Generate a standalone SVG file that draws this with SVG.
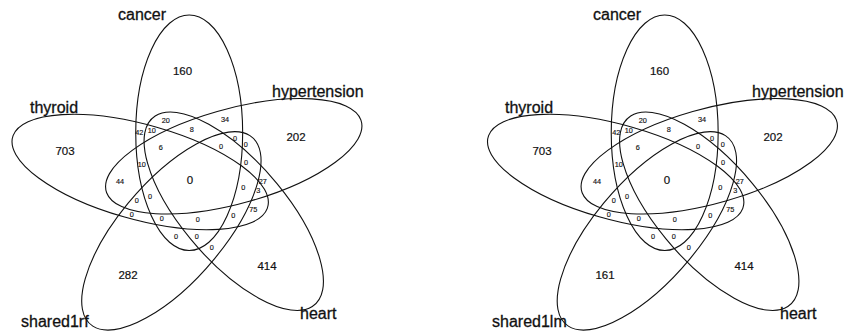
<svg xmlns="http://www.w3.org/2000/svg" xmlns:xlink="http://www.w3.org/1999/xlink" width="847" height="332" viewBox="0 0 847 332">
<style>
.el{fill:none;stroke:#111;stroke-width:1.1}
text{font-family:"Liberation Sans",Arial,sans-serif;fill:#111}
.lab{font-size:16px;stroke:#111;stroke-width:0.3}
.big{font-size:11.5px;text-anchor:middle;dominant-baseline:central;stroke:#111;stroke-width:0.2}
.sm{font-size:7.3px;text-anchor:middle;dominant-baseline:central;stroke:#111;stroke-width:0.15}
</style>
<defs>
<ellipse id="ell" cx="0" cy="0" rx="150" ry="60" vector-effect="non-scaling-stroke"/>
</defs>
<rect width="847" height="332" fill="#fff"/>
<g id="venn-left">
  <g transform="matrix(0.891,0,0,-0.785,11,329)">
    <g id="L-cancer"><use xlink:href="#ell" class="el" transform="translate(200,250) rotate(-90)"/></g>
    <g id="L-hypertension"><use xlink:href="#ell" class="el" transform="translate(250,220) rotate(-162)"/></g>
    <g id="L-heart"><use xlink:href="#ell" class="el" transform="translate(250,150) rotate(-234)"/></g>
    <g id="L-shared1rf"><use xlink:href="#ell" class="el" transform="translate(180,125) rotate(-306)"/></g>
    <g id="L-thyroid"><use xlink:href="#ell" class="el" transform="translate(145,200) rotate(-18)"/></g>
  </g>
  <g id="L-labels">
    <text class="lab" x="118" y="20">cancer</text>
    <text class="lab" x="272" y="97">hypertension</text>
    <text class="lab" x="30" y="113">thyroid</text>
    <text class="lab" x="21" y="327">shared1rf</text>
    <text class="lab" x="300" y="319">heart</text>
  </g>
  <g id="L-counts">
    <text class="big" x="182.5" y="71">160</text>
    <text class="big" x="296" y="137">202</text>
    <text class="big" x="65" y="151">703</text>
    <text class="big" x="128" y="275">282</text>
    <text class="big" x="267" y="266">414</text>
    <text class="big" x="190" y="180">0</text>
    <text class="sm" x="165.7" y="120">20</text>
    <text class="sm" x="225" y="119">34</text>
    <text class="sm" x="139.3" y="132.7">42</text>
    <text class="sm" x="151.7" y="130.7">10</text>
    <text class="sm" x="191.7" y="129">8</text>
    <text class="sm" x="235" y="138.3">0</text>
    <text class="sm" x="245.7" y="144">0</text>
    <text class="sm" x="160.7" y="147.7">6</text>
    <text class="sm" x="221" y="146.7">0</text>
    <text class="sm" x="246" y="162.3">0</text>
    <text class="sm" x="141.7" y="164.3">10</text>
    <text class="sm" x="120" y="181">44</text>
    <text class="sm" x="262.7" y="181">27</text>
    <text class="sm" x="243.3" y="187.7">0</text>
    <text class="sm" x="258.3" y="190">3</text>
    <text class="sm" x="136.7" y="200">0</text>
    <text class="sm" x="150" y="196.7">0</text>
    <text class="sm" x="253.3" y="209.3">75</text>
    <text class="sm" x="131.7" y="214.3">0</text>
    <text class="sm" x="161.7" y="218.3">0</text>
    <text class="sm" x="197.7" y="219.3">0</text>
    <text class="sm" x="233.3" y="215">0</text>
    <text class="sm" x="176" y="236.7">0</text>
    <text class="sm" x="196.7" y="236">0</text>
    <text class="sm" x="211.7" y="247.3">0</text>
  </g>
</g>
<g id="venn-right">
  <g transform="matrix(0.891,0,0,-0.785,486.5,329)">
    <g id="R-cancer"><use xlink:href="#ell" class="el" transform="translate(200,250) rotate(-90)"/></g>
    <g id="R-hypertension"><use xlink:href="#ell" class="el" transform="translate(250,220) rotate(-162)"/></g>
    <g id="R-heart"><use xlink:href="#ell" class="el" transform="translate(250,150) rotate(-234)"/></g>
    <g id="R-shared1lm"><use xlink:href="#ell" class="el" transform="translate(180,125) rotate(-306)"/></g>
    <g id="R-thyroid"><use xlink:href="#ell" class="el" transform="translate(145,200) rotate(-18)"/></g>
  </g>
  <g id="R-labels">
    <text class="lab" x="593" y="20">cancer</text>
    <text class="lab" x="752" y="97">hypertension</text>
    <text class="lab" x="505" y="113">thyroid</text>
    <text class="lab" x="492" y="327">shared1lm</text>
    <text class="lab" x="780" y="319">heart</text>
  </g>
  <g id="R-counts" transform="translate(477,0)">
    <text class="big" x="182.5" y="71">160</text>
    <text class="big" x="296" y="137">202</text>
    <text class="big" x="65" y="151">703</text>
    <text class="big" x="128" y="275">161</text>
    <text class="big" x="267" y="266">414</text>
    <text class="big" x="190" y="180">0</text>
    <text class="sm" x="165.7" y="120">20</text>
    <text class="sm" x="225" y="119">34</text>
    <text class="sm" x="139.3" y="132.7">42</text>
    <text class="sm" x="151.7" y="130.7">10</text>
    <text class="sm" x="191.7" y="129">8</text>
    <text class="sm" x="235" y="138.3">0</text>
    <text class="sm" x="245.7" y="144">0</text>
    <text class="sm" x="160.7" y="147.7">6</text>
    <text class="sm" x="221" y="146.7">0</text>
    <text class="sm" x="246" y="162.3">0</text>
    <text class="sm" x="141.7" y="164.3">10</text>
    <text class="sm" x="120" y="181">44</text>
    <text class="sm" x="262.7" y="181">27</text>
    <text class="sm" x="243.3" y="187.7">0</text>
    <text class="sm" x="258.3" y="190">3</text>
    <text class="sm" x="136.7" y="200">0</text>
    <text class="sm" x="150" y="196.7">0</text>
    <text class="sm" x="253.3" y="209.3">75</text>
    <text class="sm" x="131.7" y="214.3">0</text>
    <text class="sm" x="161.7" y="218.3">0</text>
    <text class="sm" x="197.7" y="219.3">0</text>
    <text class="sm" x="233.3" y="215">0</text>
    <text class="sm" x="176" y="236.7">0</text>
    <text class="sm" x="196.7" y="236">0</text>
    <text class="sm" x="211.7" y="247.3">0</text>
  </g>
</g>
</svg>
